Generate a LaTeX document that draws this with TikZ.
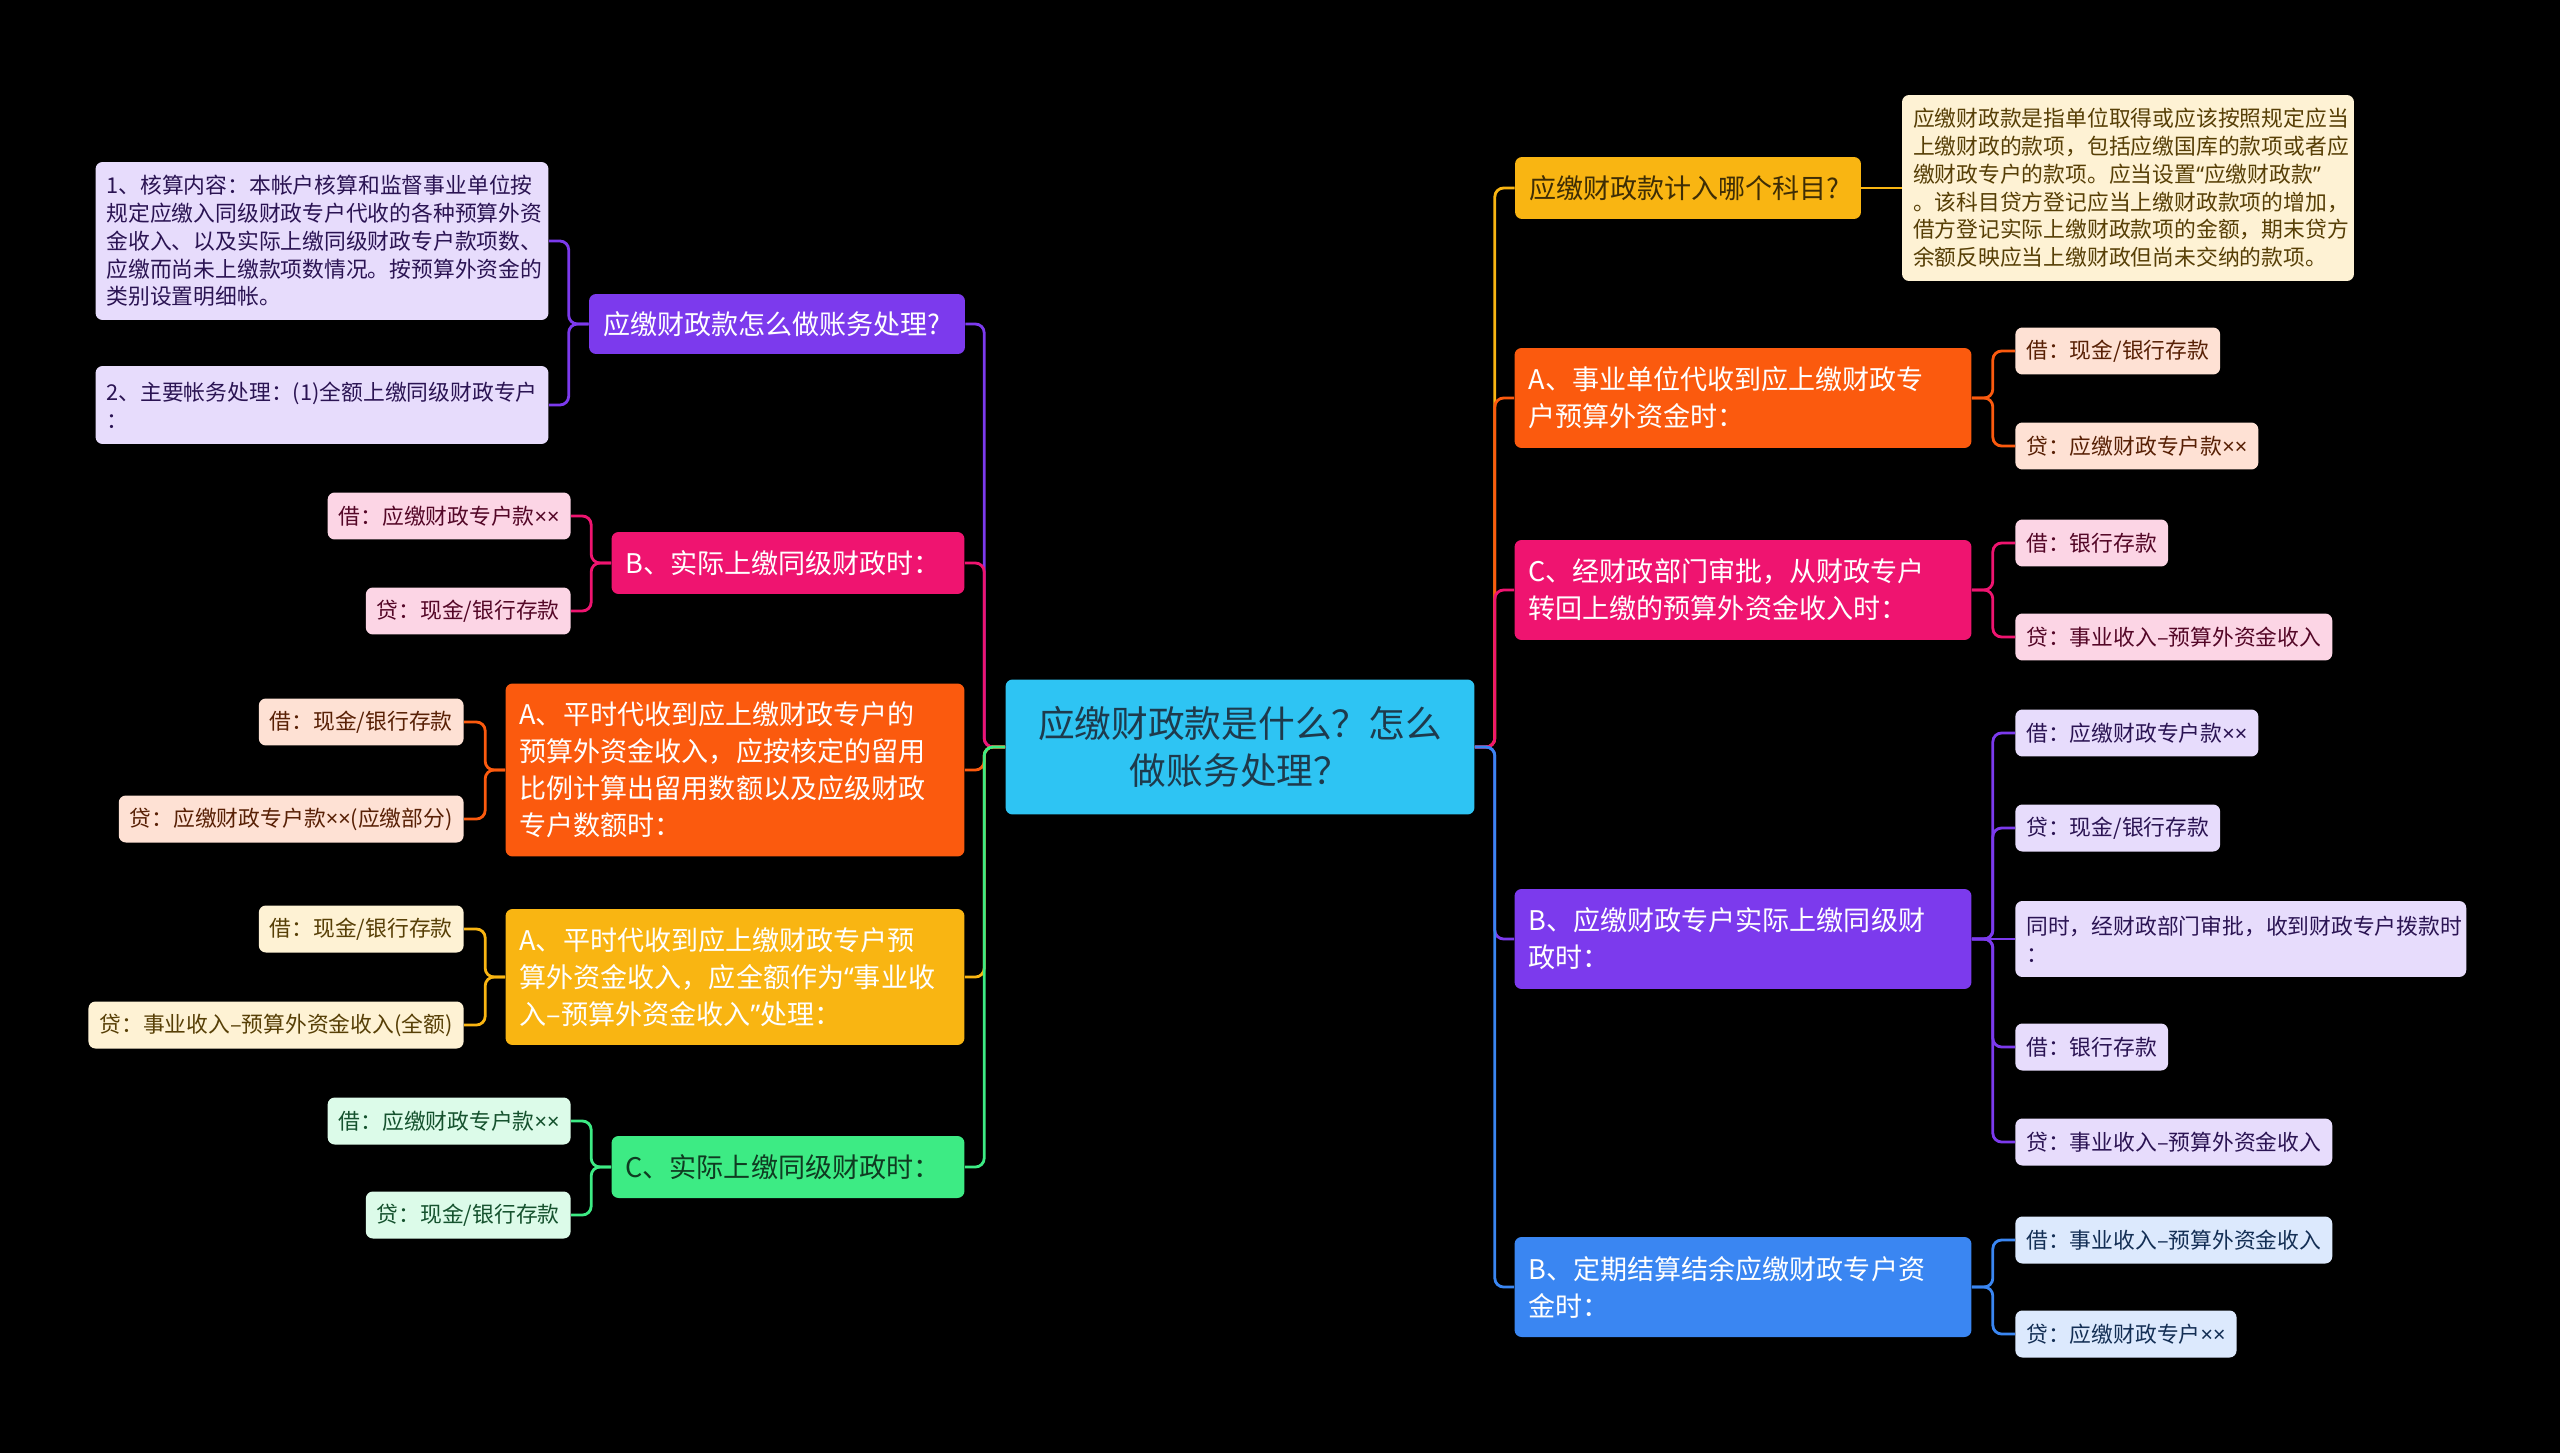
\documentclass[tikz,border=0pt]{standalone}
\usepackage{fontspec}
\setmainfont{Noto Sans CJK SC}
\newfontfamily\latinfont{Noto Sans}
\usetikzlibrary{positioning}

\definecolor{cHub}{HTML}{2EC4F3}
\definecolor{cHubText}{HTML}{1E3A4C}
\definecolor{cPurple}{HTML}{7C3AED}
\definecolor{cPink}{HTML}{EF1470}
\definecolor{cOrange}{HTML}{FB5A0E}
\definecolor{cYellow}{HTML}{F9B512}
\definecolor{cGreen}{HTML}{3DEB84}
\definecolor{cBlue}{HTML}{3A86F2}

\newcommand{\hubfont}{\fontsize{20.9}{27}\selectfont}
\newcommand{\topicfont}{\fontsize{15.4}{21}\selectfont}
\newcommand{\leaffont}{\fontsize{12.4}{15.8}\selectfont}
\newcommand{\xx}{{\latinfont ××}}
\newcommand{\oq}{{\latinfont “}}
\newcommand{\cq}{{\latinfont ”}}

\begin{document}
\begin{tikzpicture}[
  x=0.02cm, y=-0.02cm,
  hub/.style={fill=cHub, text=cHubText, rounded corners=4pt, align=center, font=\hubfont, inner sep=0pt},
  topic/.style={fill=#1, text=white, rounded corners=4pt, align=left, font=\topicfont, inner xsep=0.28cm, inner ysep=0pt},
  leaf/.style={fill=#1!18!white, text=#1!35!black, rounded corners=4pt, align=left, font=\leaffont, inner xsep=0.22cm, inner ysep=0pt, minimum height=0.94cm},
  link/.style={draw=#1, line width=1.6pt, rounded corners=5pt},
]
\useasboundingbox (0,0) rectangle (2560,1453);
\fill[black] (0,0) rectangle (2560,1453);

% ---- centre
\node[hub, minimum width=9.38cm, minimum height=2.7cm] (hub) at (1240,747) {应缴财政款是什么？怎么\\做账务处理？};

% ---- left topics
\node[topic=cPurple, text width=6.96cm, minimum height=1.2cm] (L1) at (777,324) {应缴财政款怎么做账务处理?};
\node[topic=cPink, text width=6.5cm, minimum height=1.24cm] (L2) at (788,563) {B、实际上缴同级财政时：};
\node[topic=cOrange, text width=8.62cm, minimum height=3.46cm] (L3) at (735,770) {A、平时代收到应上缴财政专户的\\预算外资金收入，应按核定的留用\\比例计算出留用数额以及应级财政\\专户数额时：};
\node[topic=cYellow, text width=8.62cm, minimum height=2.72cm] (L4) at (735,977) {A、平时代收到应上缴财政专户预\\算外资金收入，应全额作为\oq 事业收\\入–预算外资金收入\cq 处理：};
\node[topic=cGreen, text=cGreen!25!black, text width=6.5cm, minimum height=1.24cm] (L5) at (788,1167) {C、实际上缴同级财政时：};

% ---- left leaves
\node[leaf=cPurple, text width=8.62cm, minimum height=3.16cm] (L1a) at (322,241) {1、核算内容：本帐户核算和监督事业单位按\\规定应缴入同级财政专户代收的各种预算外资\\金收入、以及实际上缴同级财政专户款项数、\\应缴而尚未上缴款项数情况。按预算外资金的\\类别设置明细帐。};
\node[leaf=cPurple, text width=8.62cm, minimum height=1.56cm] (L1b) at (322,405) {2、主要帐务处理：(1)全额上缴同级财政专户\\：};
\node[leaf=cPink, anchor=east] (L2a) at (571,516) {借：应缴财政专户款\xx};
\node[leaf=cPink, anchor=east] (L2b) at (571,611) {贷：现金/银行存款};
\node[leaf=cOrange, anchor=east] (L3a) at (464,722) {借：现金/银行存款};
\node[leaf=cOrange, anchor=east] (L3b) at (464,819) {贷：应缴财政专户款\xx(应缴部分)};
\node[leaf=cYellow, anchor=east] (L4a) at (464,929) {借：现金/银行存款};
\node[leaf=cYellow, anchor=east] (L4b) at (464,1025) {贷：事业收入–预算外资金收入(全额)};
\node[leaf=cGreen, anchor=east] (L5a) at (571,1121) {借：应缴财政专户款\xx};
\node[leaf=cGreen, anchor=east] (L5b) at (571,1215) {贷：现金/银行存款};

% ---- right topics
\node[topic=cYellow, text=cYellow!25!black, text width=6.36cm, minimum height=1.24cm] (R1) at (1688,188) {应缴财政款计入哪个科目?};
\node[topic=cOrange, text width=8.58cm, minimum height=2cm] (R2) at (1743,398) {A、事业单位代收到应上缴财政专\\户预算外资金时：};
\node[topic=cPink, text width=8.58cm, minimum height=2cm] (R3) at (1743,590) {C、经财政部门审批，从财政专户\\转回上缴的预算外资金收入时：};
\node[topic=cPurple, text width=8.58cm, minimum height=2cm] (R4) at (1743,939) {B、应缴财政专户实际上缴同级财\\政时：};
\node[topic=cBlue, text width=8.58cm, minimum height=2cm] (R5) at (1743,1287) {B、定期结算结余应缴财政专户资\\金时：};

% ---- right leaves
\node[leaf=cYellow, text width=8.6cm, minimum height=3.72cm] (R1a) at (2128,188) {应缴财政款是指单位取得或应该按照规定应当\\上缴财政的款项，包括应缴国库的款项或者应\\缴财政专户的款项。应当设置\oq 应缴财政款\cq\\。该科目贷方登记应当上缴财政款项的增加，\\借方登记实际上缴财政款项的金额，期末贷方\\余额反映应当上缴财政但尚未交纳的款项。};
\node[leaf=cOrange, anchor=west] (R2a) at (2015,351) {借：现金/银行存款};
\node[leaf=cOrange, anchor=west] (R2b) at (2015,446) {贷：应缴财政专户款\xx};
\node[leaf=cPink, anchor=west] (R3a) at (2015,543) {借：银行存款};
\node[leaf=cPink, anchor=west] (R3b) at (2015,637) {贷：事业收入–预算外资金收入};
\node[leaf=cPurple, anchor=west] (R4a) at (2015,733) {借：应缴财政专户款\xx};
\node[leaf=cPurple, anchor=west] (R4b) at (2015,828) {贷：现金/银行存款};
\node[leaf=cPurple, anchor=west, text width=8.58cm, minimum height=1.52cm] (R4c) at (2015,939) {同时，经财政部门审批，收到财政专户拨款时\\：};
\node[leaf=cPurple, anchor=west] (R4d) at (2015,1047) {借：银行存款};
\node[leaf=cPurple, anchor=west] (R4e) at (2015,1142) {贷：事业收入–预算外资金收入};
\node[leaf=cBlue, anchor=west] (R5a) at (2015,1240) {借：事业收入–预算外资金收入};
\node[leaf=cBlue, anchor=west] (R5b) at (2015,1334) {贷：应缴财政专户\xx};

% ---- hub to topics
\foreach \n/\c in {L1/cPurple, L2/cPink, L3/cOrange, L4/cYellow, L5/cGreen}
  \draw[link=\c] (hub.west) -- ++(-21,0) |- (\n.east);
\foreach \n/\c in {R1/cYellow, R2/cOrange, R3/cPink, R4/cPurple, R5/cBlue}
  \draw[link=\c] (hub.east) -- ++(20,0) |- (\n.west);

% ---- topics to leaves
\foreach \n/\c in {L1/cPurple, L2/cPink, L3/cOrange, L4/cYellow, L5/cGreen}
  \foreach \s in {a,b}
    \draw[link=\c] (\n.west) -- ++(-20,0) |- (\n\s.east);
\draw[link=cYellow] (R1.east) -- (R1a.west |- R1.east);
\foreach \n/\c in {R2/cOrange, R3/cPink, R5/cBlue}
  \foreach \s in {a,b}
    \draw[link=\c] (\n.east) -- ++(21,0) |- (\n\s.west);
\foreach \s in {a,b,d,e}
  \draw[link=cPurple] (R4.east) -- ++(21,0) |- (R4\s.west);
\draw[link=cPurple] (R4.east) -- (R4c.west);
\end{tikzpicture}
\end{document}
